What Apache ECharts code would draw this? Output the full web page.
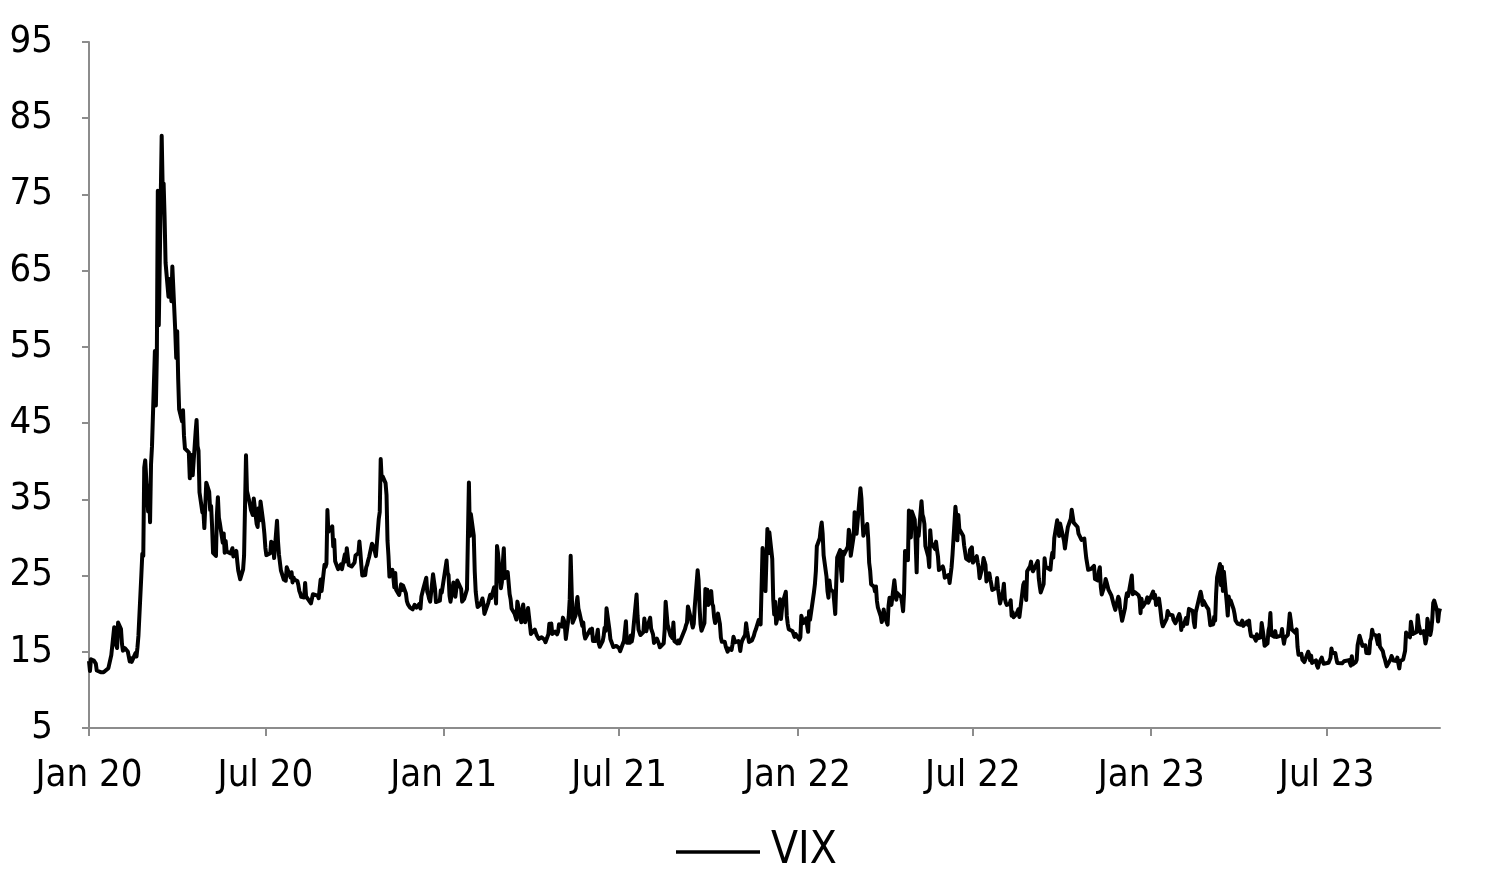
<!DOCTYPE html>
<html><head><meta charset="utf-8">
<script src="https://cdn.jsdelivr.net/npm/echarts@6/dist/echarts.min.js"></script>
<style>html,body{margin:0;padding:0;background:#fff}#c{width:1490px;height:894px}</style>
</head><body><div id="c"></div>
<script>
// VIX daily closes, [MMDD, value] per year
const vix2020 = [
[101,13.78],[102,12.47],[103,14.02],[106,13.85],[107,13.79],[108,13.45],[109,12.54],[110,12.56],[113,12.32],[114,12.39],[115,12.42],[116,12.32],[117,12.10],[121,12.85],[122,12.91],[123,12.98],[124,14.56],[127,18.23],[128,16.28],[129,16.39],[130,15.49],[131,18.84],
[203,17.97],[204,16.05],[205,15.15],[206,14.96],[207,15.47],[210,15.04],[211,15.18],[212,13.74],[213,14.15],[214,13.68],[218,14.83],[219,14.38],[220,15.56],[221,17.08],[224,25.03],[225,27.85],[226,27.56],[227,39.16],[228,40.11],
[302,33.42],[303,36.82],[304,31.99],[305,39.62],[306,41.94],[309,54.46],[310,47.30],[311,53.90],[312,75.47],[313,57.83],[316,82.69],[317,75.91],[318,76.45],[319,72.00],[320,66.04],[323,61.59],[324,61.67],[325,63.95],[326,61.00],[327,65.54],[330,57.08],[331,53.54],
[401,57.06],[402,50.91],[403,46.80],[406,45.24],[407,46.70],[408,43.35],[409,41.67],[413,41.17],[414,37.76],[415,40.84],[416,40.11],[417,38.15],[420,43.83],[421,45.41],[422,41.98],[423,41.38],[424,35.93],[427,33.29],[428,33.57],[429,31.23],[430,34.15],
[501,37.19],[504,35.97],[505,33.61],[506,34.12],[507,31.44],[508,27.98],[511,27.57],[512,33.04],[513,35.28],[514,32.61],[515,31.89],[518,29.30],[519,30.53],[520,27.99],[521,29.53],[522,28.16],[526,27.91],[527,28.01],[528,28.59],[529,27.51],
[601,28.23],[602,26.84],[603,25.66],[604,25.81],[605,24.52],[608,25.81],[609,27.57],[610,27.57],[611,40.79],[612,36.09],[615,34.40],[616,33.67],[617,33.47],[618,32.94],[619,35.12],[622,31.77],[623,31.37],[624,33.84],[625,32.22],[626,34.73],[629,31.78],[630,30.43],
[701,28.62],[702,27.68],[706,27.94],[707,29.43],[708,28.08],[709,29.26],[710,27.29],[713,32.19],[714,29.52],[715,27.76],[716,28.00],[717,25.68],[720,24.46],[721,24.84],[722,24.32],[723,26.08],[724,25.84],[727,24.74],[728,25.44],[729,24.10],[730,24.76],[731,24.46],
[803,24.28],[804,23.76],[805,22.99],[806,22.65],[807,22.21],[810,22.13],[811,24.03],[812,22.28],[813,22.28],[814,22.05],[817,21.35],[818,21.51],[819,22.54],[820,22.72],[821,22.54],[824,22.37],[825,22.03],[826,23.27],[827,24.47],[828,22.96],[831,26.41],
[901,26.12],[902,26.57],[903,33.60],[904,30.75],[908,31.46],[909,28.81],[910,29.71],[911,26.87],[914,25.85],[915,25.59],[916,26.04],[917,26.46],[918,25.83],[921,27.78],[922,26.86],[923,28.58],[924,28.51],[925,26.38],[928,26.19],[929,26.27],[930,26.37],
[1001,26.70],[1002,27.63],[1005,27.96],[1006,29.48],[1007,28.06],[1008,26.36],[1009,25.00],[1012,25.07],[1013,26.07],[1014,26.40],[1015,26.97],[1016,27.41],[1019,29.18],[1020,29.35],[1021,28.65],[1022,28.11],[1023,27.55],[1026,32.46],[1027,33.35],[1028,40.28],[1029,37.59],[1030,38.02],
[1102,37.13],[1103,35.55],[1104,29.57],[1105,27.58],[1106,24.86],[1109,25.75],[1110,24.80],[1111,23.45],[1112,25.35],[1113,23.10],[1116,22.45],[1117,22.71],[1118,23.84],[1119,23.11],[1120,23.70],[1123,22.66],[1124,21.64],[1125,21.25],[1127,20.84],[1130,20.57],
[1201,20.77],[1202,21.17],[1203,21.28],[1204,20.79],[1207,21.30],[1208,20.68],[1209,22.27],[1210,22.52],[1211,23.31],[1214,24.72],[1215,22.89],[1216,22.50],[1217,21.93],[1218,21.57],[1221,25.16],[1222,24.23],[1223,23.31],[1224,21.53],[1228,21.70],[1229,23.08],[1230,22.77],[1231,22.75]
];
const vix2021 = [
[104,26.97],[105,25.34],[106,25.07],[107,22.37],[108,21.56],[111,24.08],[112,23.33],[113,22.21],[114,23.25],[115,24.34],[119,23.24],[120,21.58],[121,21.32],[122,21.91],[125,23.19],[126,23.02],[127,37.21],[128,30.21],[129,33.09],
[201,30.24],[202,25.56],[203,22.91],[204,21.77],[205,20.87],[208,21.24],[209,21.63],[210,21.99],[211,21.25],[212,19.97],[216,21.46],[217,21.50],[218,22.49],[219,22.05],[222,23.45],[223,23.11],[224,21.34],[225,28.89],[226,27.95],
[301,23.35],[302,24.10],[303,26.67],[304,28.57],[305,24.66],[308,25.47],[309,24.03],[310,22.56],[311,21.91],[312,20.69],[315,20.03],[316,19.79],[317,19.23],[318,21.58],[319,20.95],[322,18.88],[323,20.30],[324,21.20],[325,19.81],[326,18.86],[329,20.74],[330,19.61],[331,19.40],
[401,17.33],[405,17.91],[406,18.12],[407,17.16],[408,16.95],[409,16.69],[412,16.91],[413,16.65],[414,16.99],[415,16.57],[416,16.25],[419,17.30],[420,18.68],[421,17.50],[422,18.71],[423,17.33],[426,17.64],[427,17.56],[428,17.28],[429,17.61],[430,18.61],
[503,18.31],[504,19.48],[505,19.15],[506,18.39],[507,16.69],[510,19.66],[511,21.84],[512,27.59],[513,23.13],[514,18.81],[517,19.72],[518,21.34],[519,22.18],[520,20.67],[521,20.15],[524,18.40],[525,18.84],[526,17.36],[527,16.74],[528,16.76],
[601,17.90],[602,17.48],[603,18.04],[604,16.42],[607,16.42],[608,17.07],[609,17.89],[610,16.10],[611,15.65],[614,16.39],[615,17.02],[616,18.15],[617,17.75],[618,20.70],[621,17.89],[622,16.66],[623,16.32],[624,15.97],[625,15.62],[628,15.76],[629,16.02],[630,15.83],
[701,15.48],[702,15.07],[706,16.44],[707,16.20],[708,19.00],[709,16.18],[712,16.17],[713,17.12],[714,16.33],[715,17.01],[716,18.45],[719,22.50],[720,19.73],[721,17.91],[722,17.69],[723,17.20],[726,17.58],[727,19.36],[728,18.31],[729,17.70],[730,18.24],
[802,19.46],[803,18.04],[804,17.97],[805,17.28],[806,16.15],[809,16.72],[810,16.79],[811,16.06],[812,15.59],[813,15.45],[816,16.12],[817,17.91],[818,21.57],[819,21.67],[820,18.56],[823,17.15],[824,17.22],[825,16.79],[826,18.84],[827,16.39],[830,16.11],[831,16.48],
[901,16.11],[902,16.41],[903,16.41],[907,18.00],[908,18.49],[909,18.80],[910,20.95],[913,19.37],[914,19.46],[915,18.18],[916,18.69],[917,20.81],[920,25.71],[921,24.36],[922,20.87],[923,18.63],[924,17.75],[927,18.76],[928,23.25],[929,22.56],[930,23.14],
[1001,21.15],[1004,22.96],[1005,21.30],[1006,21.00],[1007,19.54],[1008,18.77],[1011,20.00],[1012,19.85],[1013,18.64],[1014,16.86],[1015,16.30],[1018,16.30],[1019,15.70],[1020,15.49],[1021,15.01],[1022,15.43],[1025,15.24],[1026,15.98],[1027,16.98],[1028,16.53],[1029,16.26],
[1101,16.41],[1102,16.03],[1103,15.10],[1104,16.03],[1105,16.48],[1108,17.22],[1109,18.73],[1110,17.78],[1111,17.66],[1112,16.29],[1115,16.49],[1116,16.37],[1117,17.11],[1118,17.59],[1119,17.91],[1122,19.17],[1123,19.38],[1124,18.58],[1126,28.62],[1129,22.96],[1130,27.19],
[1201,31.12],[1202,27.95],[1203,30.67],[1206,27.18],[1207,21.89],[1208,19.90],[1209,21.58],[1210,18.69],[1213,20.31],[1214,21.89],[1215,19.29],[1216,20.57],[1217,21.57],[1220,22.87],[1221,19.70],[1222,18.63],[1223,17.96],[1227,17.68],[1228,17.54],[1229,16.95],[1230,17.33],[1231,17.22]
];
const vix2022 = [
[103,16.60],[104,16.91],[105,19.73],[106,19.61],[107,18.76],[110,19.40],[111,18.41],[112,17.62],[113,20.31],[114,19.19],[118,22.79],[119,23.85],[120,25.59],[121,28.85],[124,29.90],[125,31.16],[126,31.96],[127,30.49],[128,27.66],[131,24.83],
[201,22.96],[202,22.09],[203,24.35],[204,23.22],[207,22.86],[208,21.44],[209,19.96],[210,23.91],[211,27.36],[214,28.33],[215,25.70],[216,24.29],[217,28.11],[218,27.75],[222,28.81],[223,31.02],[224,30.32],[225,27.59],[228,30.15],
[301,33.32],[302,31.30],[303,30.48],[304,31.98],[307,36.45],[308,35.13],[309,32.45],[310,30.23],[311,30.75],[314,31.77],[315,29.83],[316,26.67],[317,25.67],[318,23.87],[321,23.53],[322,22.94],[323,23.57],[324,21.67],[325,20.81],[328,19.63],[329,18.90],[330,19.33],[331,20.56],
[401,19.63],[404,18.57],[405,21.03],[406,22.10],[407,21.55],[408,21.16],[411,24.37],[412,24.26],[413,21.82],[414,22.70],[418,22.17],[419,21.37],[420,20.32],[421,22.68],[422,28.21],[425,27.02],[426,33.52],[427,31.60],[428,29.99],[429,33.40],
[502,32.34],[503,29.25],[504,25.42],[505,31.20],[506,30.19],[509,34.75],[510,32.99],[511,32.56],[512,31.77],[513,28.87],[516,27.47],[517,26.10],[518,30.96],[519,29.35],[520,29.43],[523,28.48],[524,29.45],[525,28.37],[526,27.50],[527,25.72],[531,26.19],
[601,25.69],[602,24.72],[603,24.79],[606,25.07],[607,24.02],[608,23.96],[609,26.09],[610,27.75],[613,34.02],[614,32.69],[615,29.62],[616,32.95],[617,31.13],[621,30.19],[622,28.95],[623,29.05],[624,27.23],[627,26.95],[628,28.36],[629,28.16],[630,28.71],
[701,26.70],[705,27.54],[706,26.73],[707,26.08],[708,24.64],[711,26.17],[712,27.29],[713,26.82],[714,26.40],[715,24.23],[718,25.30],[719,24.50],[720,23.88],[721,23.11],[722,23.03],[725,23.36],[726,24.69],[727,23.24],[728,22.33],[729,21.33],
[801,22.84],[802,23.93],[803,21.95],[804,21.44],[805,21.15],[808,21.29],[809,21.77],[810,19.74],[811,20.20],[812,19.53],[815,19.95],[816,19.69],[817,20.58],[818,19.56],[819,20.60],[822,23.80],[823,24.11],[824,22.82],[825,21.78],[826,25.56],[829,26.21],[830,26.83],[831,25.87],
[901,25.56],[902,25.47],[906,26.91],[907,24.64],[908,23.61],[909,22.79],[912,23.87],[913,27.27],[914,26.16],[915,26.27],[916,26.30],[919,25.76],[920,27.16],[921,27.99],[922,27.35],[923,29.92],[926,32.26],[927,32.18],[928,30.18],[929,31.84],[930,31.62],
[1003,29.59],[1004,28.55],[1005,28.55],[1006,30.52],[1007,31.36],[1010,32.45],[1011,33.63],[1012,33.57],[1013,31.94],[1014,32.02],[1017,31.37],[1018,30.50],[1019,30.76],[1020,29.98],[1021,29.69],[1024,29.85],[1025,28.46],[1026,27.28],[1027,27.39],[1028,25.75],[1031,25.88],
[1101,25.81],[1102,25.86],[1103,26.27],[1104,24.55],[1107,24.35],[1108,25.54],[1109,26.09],[1110,23.53],[1111,22.52],[1114,23.73],[1115,24.54],[1116,24.11],[1117,23.93],[1118,23.12],[1121,22.36],[1122,22.36],[1123,21.35],[1125,20.50],[1128,22.21],[1129,21.89],[1130,20.58],
[1201,19.84],[1202,19.06],[1205,20.75],[1206,22.01],[1207,22.68],[1208,22.29],[1209,22.83],[1212,25.00],[1213,22.55],[1214,22.68],[1215,22.83],[1216,22.62],[1219,22.42],[1220,21.97],[1221,20.07],[1222,21.97],[1223,20.87],[1227,21.65],[1228,22.14],[1229,21.44],[1230,21.67]
];
const vix2023 = [
[103,22.90],[104,22.01],[105,22.46],[106,21.13],[109,21.97],[110,21.07],[111,21.09],[112,18.83],[113,18.35],[117,19.36],[118,20.34],[119,20.52],[120,19.85],[123,19.81],[124,19.20],[125,19.03],[126,18.73],[127,18.51],[130,19.94],[131,19.40],
[201,17.87],[202,18.73],[203,18.33],[206,19.43],[207,18.66],[208,19.63],[209,20.63],[210,20.53],[213,20.34],[214,18.91],[215,18.23],[216,20.17],[217,20.02],[221,22.87],[222,22.29],[223,21.14],[224,21.67],[227,20.95],[228,20.70],
[301,20.58],[302,19.59],[303,18.49],[306,18.61],[307,19.59],[308,19.11],[309,22.61],[310,24.80],[313,26.52],[314,23.73],[315,26.14],[316,22.99],[317,25.51],[320,21.38],[321,19.75],[322,22.26],[323,21.35],[324,21.74],[327,20.60],[328,19.97],[329,19.12],[330,19.02],[331,18.70],
[403,18.55],[404,18.58],[405,19.08],[406,18.40],[410,18.97],[411,18.53],[412,19.09],[413,17.80],[414,17.07],[417,16.95],[418,16.83],[419,16.46],[420,17.30],[421,16.77],[424,16.89],[425,18.76],[426,18.84],[427,17.03],[428,15.78],
[501,16.08],[502,17.78],[503,18.34],[504,20.09],[505,17.19],[508,16.98],[509,17.71],[510,16.94],[511,16.93],[512,17.03],[515,17.12],[516,17.99],[517,16.87],[518,16.05],[519,16.81],[522,17.21],[523,18.53],[524,20.03],[525,19.14],[526,17.95],[530,17.46],[531,17.94],
[601,15.65],[602,14.60],[605,14.73],[606,13.96],[607,13.94],[608,13.65],[609,13.83],[612,15.01],[613,14.61],[614,13.88],[615,14.50],[616,13.54],[620,13.88],[621,13.20],[622,12.91],[623,13.44],[626,14.25],[627,13.74],[628,13.43],[629,13.54],[630,13.59],
[703,13.57],[705,14.18],[706,15.44],[707,14.83],[710,14.84],[711,14.12],[712,13.54],[713,13.61],[714,13.34],[717,13.48],[718,13.30],[719,13.76],[720,13.99],[721,13.60],[724,13.91],[725,13.86],[726,13.19],[727,14.41],[728,13.33],[731,13.63],
[801,13.93],[802,15.88],[803,15.92],[804,17.10],[807,15.77],[808,15.99],[809,15.96],[810,15.85],[811,14.84],[814,14.82],[815,16.46],[816,16.78],[817,17.89],[818,17.30],[821,17.13],[822,16.97],[823,15.98],[824,17.20],[825,15.68],[828,15.08],[829,14.45],[830,14.09],[831,13.57],
[901,13.09],[905,14.02],[906,14.45],[907,14.40],[908,13.84],[911,13.80],[912,14.23],[913,13.48],[914,12.82],[915,13.79],[918,14.00],[919,14.11],[920,15.14],[921,17.54],[922,17.20],[925,16.90],[926,18.94],[927,18.22],[928,17.34],[929,17.52],
[1002,17.61],[1003,19.78],[1004,18.58],[1005,18.49],[1006,17.45],[1009,17.70],[1010,17.03],[1011,16.09],[1012,16.69],[1013,19.32],[1016,17.21],[1017,17.88],[1018,19.22],[1019,21.40],[1020,21.71],[1023,20.37],[1024,18.97],[1025,20.19],[1026,20.68]
];
const seriesName = 'VIX';
const xStart = '2020-01-01';
const xEnd = '2023-10-26';
const tickDates = ['2020-01-01','2020-07-01','2021-01-01','2021-07-01','2022-01-01','2022-07-01','2023-01-01','2023-07-01'];
const tickLabels = ['Jan 20','Jul 20','Jan 21','Jul 21','Jan 22','Jul 22','Jan 23','Jul 23'];
const yMin = 5, yMax = 95, yStep = 10;

const DAY = 86400000;
function ts(s){ const p = s.split('-').map(Number); return Date.UTC(p[0], p[1]-1, p[2]); }
function toPoints(year, arr){ return arr.map(function(r){ const m = Math.floor(r[0]/100), d = r[0]%100; return [Date.UTC(year, m-1, d), r[1]]; }); }
const points = [].concat(toPoints(2020, vix2020), toPoints(2021, vix2021), toPoints(2022, vix2022), toPoints(2023, vix2023));
const tickTs = tickDates.map(ts);

const FONT = "'Liberation Sans Narrow','Arial Narrow','DejaVu Sans Condensed',sans-serif";
const AXIS_GRAY = '#8c8c8c';

const chart = echarts.init(document.getElementById('c'), null, {renderer:'canvas'});
chart.setOption({
  animation: false,
  backgroundColor: '#ffffff',
  grid: { left: 89, right: 50, top: 42, bottom: 166, containLabel: false },
  xAxis: {
    type: 'value', min: ts(xStart), max: ts(xEnd), scale: true,
    axisLine: { show: true, lineStyle: { color: AXIS_GRAY, width: 2 } },
    axisTick: { show: true, inside: false, length: 8, customValues: tickTs, lineStyle: { color: AXIS_GRAY, width: 2 } },
    axisLabel: {
      customValues: tickTs, margin: 29, color: '#000', fontSize: 38, fontFamily: FONT, hideOverlap: false,
      formatter: function(v){ let best = 0, bd = Infinity; tickTs.forEach(function(t,i){ const d = Math.abs(t - v); if (d < bd) { bd = d; best = i; } }); return bd < DAY ? tickLabels[best] : ''; }
    },
    splitLine: { show: false }
  },
  yAxis: {
    type: 'value', min: yMin, max: yMax, interval: yStep,
    axisLine: { show: true, lineStyle: { color: AXIS_GRAY, width: 2 } },
    axisTick: { show: true, inside: false, length: 7, lineStyle: { color: AXIS_GRAY, width: 2 } },
    axisLabel: { color: '#000', fontSize: 38, fontFamily: FONT, margin: 36 },
    splitLine: { show: false }
  },
  legend: {
    data: [seriesName], left: 676, top: 830, padding: 0, icon: 'rect', itemWidth: 84, itemHeight: 3.5, itemGap: 10,
    itemStyle: { color: '#000' },
    textStyle: { color: '#000', fontSize: 44, fontFamily: FONT, padding: [0,0,0,6] }
  },
  series: [{
    name: seriesName, type: 'line', data: points, showSymbol: false, symbol: 'none',
    lineStyle: { color: '#000', width: 4, join: 'round' }, itemStyle: { color: '#000' }
  }]
});
</script></body></html>
